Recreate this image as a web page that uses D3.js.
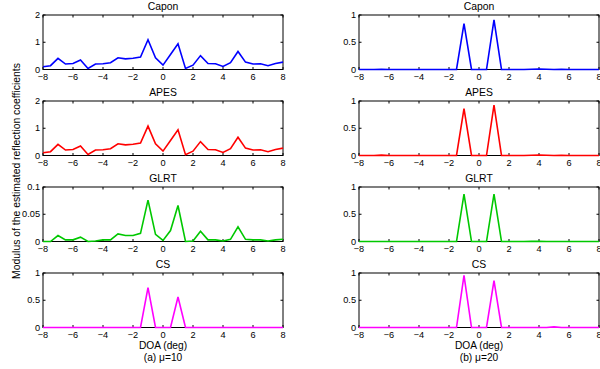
<!DOCTYPE html>
<html>
<head>
<meta charset="utf-8">
<script src="https://cdn.jsdelivr.net/npm/d3@7"></script>
<style>
body { margin: 0; background: #fff; }
svg { display: block; font-family: "Liberation Sans", Arial, sans-serif; }
</style>
</head>
<body>
<div id="vis"></div>
<script>
'use strict';

// DOA grid, 0.5 deg step
var doa = [-8,-7.5,-7,-6.5,-6,-5.5,-5,-4.5,-4,-3.5,-3,-2.5,-2,-1.5,-1,-0.5,0,0.5,1,1.5,2,2.5,3,3.5,4,4.5,5,5.5,6,6.5,7,7.5,8];

// (a) mu = 10
var caponA = [0.10,0.14,0.41,0.20,0.22,0.35,0.04,0.20,0.21,0.25,0.43,0.39,0.41,0.46,1.09,0.43,0.16,0.55,0.94,0.04,0.16,0.51,0.22,0.21,0.11,0.25,0.66,0.27,0.20,0.21,0.14,0.22,0.27];
var apesA  = [0.10,0.14,0.41,0.20,0.22,0.35,0.04,0.20,0.21,0.25,0.43,0.39,0.41,0.46,1.08,0.43,0.16,0.55,0.94,0.03,0.16,0.51,0.22,0.21,0.11,0.25,0.67,0.27,0.20,0.21,0.14,0.22,0.27];
var glrtA  = [0,0,0.011,0.003,0.003,0.008,0,0.001,0.003,0.003,0.014,0.011,0.011,0.015,0.076,0.013,0.002,0.020,0.066,0,0.001,0.019,0.003,0.003,0.001,0.004,0.027,0.004,0.003,0.003,0.001,0.003,0.004];
var csA    = [0,0,0,0,0,0,0,0,0,0,0,0,0,0,0.73,0,0,0,0.56,0,0,0,0,0,0,0,0,0,0,0,0,0,0];

// (b) mu = 20
var caponB = [0,0,0,0.005,0,0,0,0,0,0,0,0,0,0,0.84,0,0,0,0.91,0,0,0,0,0.004,0.008,0.004,0,0.004,0,0,0,0,0];
var apesB  = [0,0,0,0.006,0,0,0,0,0,0,0,0,0,0,0.86,0,0,0,0.925,0,0,0,0,0.005,0.008,0.004,0,0.004,0,0,0,0,0];
var glrtB  = [0,0,0,0,0,0,0,0,0,0,0,0,0,0,0.87,0,0,0,0.87,0,0,0,0,0.003,0.003,0,0,0,0,0,0,0,0];
var csB    = [0,0,0,0,0,0,0,0,0,0,0,0,0,0,0.955,0,0,0,0.86,0,0,0,0,0,0,0,0.012,0,0,0,0,0,0];

var titles = ["Capon","APES","GLRT","CS"];
var colors = ["#0000ff","#ff0000","#00c800","#ff00ff"];
var xTicks = [-8,-6,-4,-2,0,2,4,6,8];
var yTicksA = [[0,1,2],[0,1,2],[0,0.05,0.1],[0,0.5,1]];
var yTicksB = [[0,0.5,1],[0,0.5,1],[0,0.5,1],[0,0.5,1]];
var seriesA = [caponA, apesA, glrtA, csA];
var seriesB = [caponB, apesB, glrtB, csB];
var captions = ["(a) \u03bc=10", "(b) \u03bc=20"];

var width = 600, height = 369;
var panelTops = [15, 101, 187, 273];
var panelH = 54.5;
var columns = [
  {x0: 43, x1: 283, series: seriesA, yTicks: yTicksA, caption: captions[0]},
  {x0: 359, x1: 599, series: seriesB, yTicks: yTicksB, caption: captions[1]}
];

var svg = d3.select("#vis").append("svg")
  .attr("width", width).attr("height", height);

var fmt = function(d){ return d < 0 ? "\u2212" + Math.abs(d) : String(d); };

columns.forEach(function(col, ci){
  var x = d3.scaleLinear().domain([-8, 8]).range([col.x0, col.x1]);
  for (var p = 0; p < 4; p++){
    var top = panelTops[p], bot = top + panelH;
    var yt = col.yTicks[p];
    var y = d3.scaleLinear().domain([yt[0], yt[yt.length-1]]).range([bot, top]);
    var g = svg.append("g");

    // title
    g.append("text")
      .attr("x", (col.x0 + col.x1)/2).attr("y", top - 5.5)
      .attr("text-anchor","middle").style("font-size","10.4px")
      .text(titles[p]);

    // box
    g.append("rect")
      .attr("x", col.x0).attr("y", top)
      .attr("width", col.x1 - col.x0).attr("height", panelH)
      .attr("fill","none").attr("stroke","#000").attr("stroke-width",1);

    // x ticks (inward, mirrored)
    xTicks.forEach(function(t){
      g.append("line").attr("x1", x(t)).attr("x2", x(t))
        .attr("y1", bot).attr("y2", bot - 2.5).attr("stroke","#000");
      g.append("line").attr("x1", x(t)).attr("x2", x(t))
        .attr("y1", top).attr("y2", top + 2.5).attr("stroke","#000");
      g.append("text").attr("x", x(t)).attr("y", bot + 10.5)
        .attr("text-anchor","middle").style("font-size","9.2px")
        .text(fmt(t));
    });

    // y ticks
    yt.forEach(function(t){
      g.append("line").attr("x1", col.x0).attr("x2", col.x0 + 2.5)
        .attr("y1", y(t)).attr("y2", y(t)).attr("stroke","#000");
      g.append("line").attr("x1", col.x1).attr("x2", col.x1 - 2.5)
        .attr("y1", y(t)).attr("y2", y(t)).attr("stroke","#000");
      g.append("text").attr("x", col.x0 - 3).attr("y", y(t) + 3.2)
        .attr("text-anchor","end").style("font-size","9.2px")
        .text(t);
    });

    // data line
    var line = d3.line()
      .x(function(d, i){ return x(doa[i]); })
      .y(function(d){ return y(d); });
    g.append("path")
      .datum(col.series[p])
      .attr("d", line)
      .attr("fill","none")
      .attr("stroke", colors[p])
      .attr("stroke-width", 1.6)
      .attr("stroke-linejoin","miter");
  }

  // x label + caption
  svg.append("text")
    .attr("x", (col.x0 + col.x1)/2).attr("y", 349)
    .attr("text-anchor","middle").style("font-size","10.2px")
    .text("DOA (deg)");
  svg.append("text")
    .attr("x", (col.x0 + col.x1)/2).attr("y", 360.5)
    .attr("text-anchor","middle").style("font-size","10.2px")
    .text(col.caption);
});

// shared y label
svg.append("text")
  .attr("transform","translate(19.5,171) rotate(-90)")
  .attr("text-anchor","middle").style("font-size","10.4px")
  .text("Modulus of the estimated reflection coefficients");
</script>
</body>
</html>
